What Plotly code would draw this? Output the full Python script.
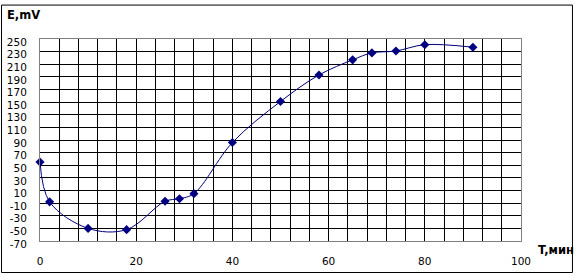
import plotly.graph_objects as go

t_min = [0, 2, 10, 18, 26, 29, 32, 40, 50, 58, 65, 69, 74, 80, 90]
e_mv = [55, -8, -50, -52, -7, -3, 5, 86, 151, 193, 217, 228, 231, 241, 237]

x_ticks = [0, 20, 40, 60, 80, 100]
y_ticks = list(range(-70, 251, 20))

fig = go.Figure()
fig.add_trace(go.Scatter(
    x=t_min, y=e_mv, mode="lines+markers",
    line=dict(color="#000080", width=1, shape="spline", smoothing=1),
    marker=dict(symbol="diamond", size=7, color="#000080"),
    showlegend=False, hoverinfo="skip", cliponaxis=False))

font = dict(family="DejaVu Sans", size=10.5, color="black")
fig.update_layout(
    width=578, height=277,
    margin=dict(l=40, r=57, t=39, b=36, pad=0),
    paper_bgcolor="white", plot_bgcolor="white",
    font=font,
    xaxis=dict(range=[0, 100], tickvals=x_ticks, ticktext=[str(v) for v in x_ticks],
               showgrid=True, gridcolor="black", gridwidth=1,
               minor=dict(dtick=4, tick0=0, showgrid=True, gridcolor="black", gridwidth=1),
               zeroline=False, showline=True, linecolor="#808080", linewidth=1, mirror=True,
               ticks="", ticklabelstandoff=10, tickfont=font, automargin=False),
    yaxis=dict(range=[-70, 250], tickvals=y_ticks, ticktext=[str(v) for v in y_ticks],
               showgrid=True, gridcolor="black", gridwidth=1,
               zeroline=False, showline=True, linecolor="#808080", linewidth=1, mirror=True,
               ticks="", ticklabelstandoff=10, ticklabelshift=3, tickfont=font, automargin=False),
    shapes=[dict(type="rect", xref="paper", yref="paper",
                 x0=-0.080, x1=1.107, y0=-0.156, y1=1.168,
                 line=dict(color="black", width=1), fillcolor="rgba(0,0,0,0)", layer="below")],
    annotations=[
        dict(text="<b>E,mV</b>", xref="paper", yref="paper", x=-0.073, y=1.119,
             xanchor="left", yanchor="middle", showarrow=False,
             font=dict(family="DejaVu Sans", size=11.5, color="black")),
        dict(text="<b>T,мин</b>", xref="paper", yref="paper", x=1.031, y=-0.045,
             xanchor="left", yanchor="middle", showarrow=False,
             font=dict(family="DejaVu Sans", size=11.5, color="black")),
    ],
)

fig.write_html("out.html")
